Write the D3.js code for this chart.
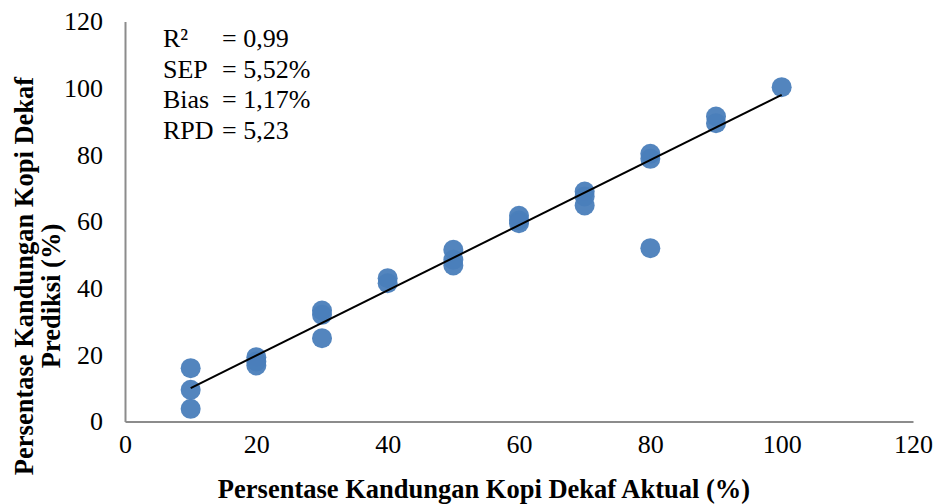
<!DOCTYPE html>
<html><head><meta charset="utf-8">
<script src="https://cdn.jsdelivr.net/npm/d3@7"></script>
<style>body{margin:0;background:#fff;} svg{display:block;}</style>
</head><body>
<svg id="chart" width="936" height="504"></svg>
<script>
const actual = [10,10,10, 20,20,20, 30,30,30, 40,40, 50,50,50, 60,60,60, 70,70,70, 80,80,80, 90,90, 100];
const predicted = [16,9.5,3.8, 19.3,18,16.8, 33.3,32,25, 43,41.5, 51.5,48.5,46.8, 61.7,60.3,59.5, 69,67.5,64.8, 80.3,78.8,52, 91.5,89.5, 100.3];
const trendX = [10, 100];
const trendY = [10.0, 98.0];
const xTicks = [0,20,40,60,80,100,120];
const yTicks = [0,20,40,60,80,100,120];
const statLabels = ["R²", "SEP", "Bias", "RPD"];
const statValues = ["= 0,99", "= 5,52%", "= 1,17%", "= 5,23"];
const xTitle = "Persentase Kandungan Kopi Dekaf Aktual (%)";
const yTitle = ["Persentase Kandungan Kopi Dekaf", "Prediksi (%)"];

const svg = d3.select("#chart");
const font = "'Liberation Serif','Times New Roman',serif";
const fs = 26;
const x = d3.scaleLinear().domain([0,120]).range([125, 913]);
const y = d3.scaleLinear().domain([0,120]).range([421.5, 21.5]);

// axes
const xAxis = svg.append("g").attr("transform", `translate(0,${y(0)})`)
  .call(d3.axisBottom(x).tickValues(xTicks).tickSize(0).tickPadding(13));
const yAxis = svg.append("g").attr("transform", `translate(${x(0)},0)`)
  .call(d3.axisLeft(y).tickValues(yTicks).tickSize(0).tickPadding(22));
[xAxis, yAxis].forEach(a => {
  a.select(".domain").attr("stroke", "#8c8c8c").attr("stroke-width", 2);
  a.selectAll("text").attr("font-family", font).attr("font-size", fs).attr("fill", "#000");
});

// points
svg.append("g").selectAll("circle").data(actual).join("circle")
  .attr("cx", (d) => x(d)).attr("cy", (d, i) => y(predicted[i]))
  .attr("r", 10).attr("fill", "#4a7ebb").attr("fill-opacity", 0.95);

// trendline
svg.append("line")
  .attr("x1", x(trendX[0])).attr("y1", y(trendY[0]))
  .attr("x2", x(trendX[1])).attr("y2", y(trendY[1]))
  .attr("stroke", "#000").attr("stroke-width", 2);

// stats
const st = svg.append("g").attr("font-family", font).attr("font-size", fs).attr("fill", "#000");
statLabels.forEach((l, i) => {
  st.append("text").attr("x", 163).attr("y", 47 + i * 30.5).text(l);
  st.append("text").attr("x", 222).attr("y", 47 + i * 30.5).text(statValues[i]);
});

// titles
svg.append("text").attr("x", 484).attr("y", 498).attr("text-anchor", "middle")
  .attr("font-family", font).attr("font-weight", "bold").attr("font-size", 26.5).text(xTitle);
svg.append("text").attr("transform", "translate(33,276) rotate(-90)").attr("text-anchor", "middle")
  .attr("font-family", font).attr("font-weight", "bold").attr("font-size", 26.5).text(yTitle[0]);
svg.append("text").attr("transform", "translate(60,296) rotate(-90)").attr("text-anchor", "middle")
  .attr("font-family", font).attr("font-weight", "bold").attr("font-size", 26.5).text(yTitle[1]);
</script>
</body></html>
